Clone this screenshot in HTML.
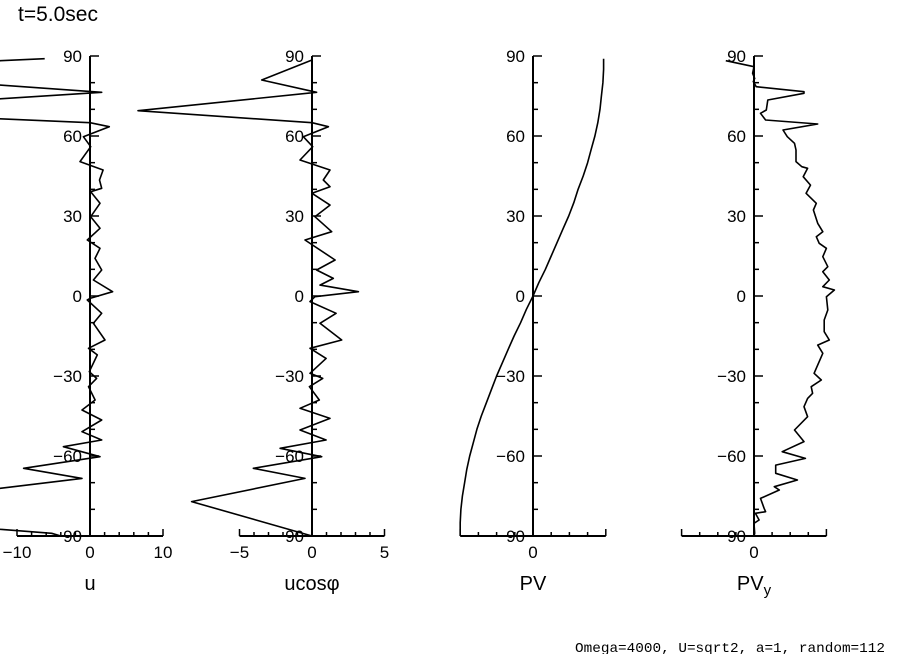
<!DOCTYPE html>
<html><head><meta charset="utf-8"><style>
body{margin:0;background:#fff;width:904px;height:654px;overflow:hidden}
svg{display:block}
text{font-family:"Liberation Sans",sans-serif;fill:#000}
</style></head><body>
<svg id="chart" width="904" height="654" viewBox="0 0 904 654" xmlns="http://www.w3.org/2000/svg">
<text x="18" y="21" font-size="21">t=5.0sec</text>
<text x="575" y="652" font-size="14" textLength="310" lengthAdjust="spacingAndGlyphs" style="font-family:'Liberation Mono',monospace">Omega=4000, U=sqrt2, a=1, random=112</text>
</svg>
<script>
// Latitudes/values
const uLat = [89,88.25,81,76.4,69.5,65,63.5,59.75,56,50.4,47.25,43.5,40.4,39.1,34.75,29.75,25.4,21,17.9,14.1,9.75,6,1.6,-0.9,-1.5,-6.5,-10.25,-16.5,-19.6,-22.1,-28.4,-30.9,-34,-39,-42.75,-46.5,-50.9,-54,-56.5,-60.25,-64.6,-68.4,-72.1,-77.1,-87.5,-89,-90];
const uVal = [-6.2,-12.3,-22,1.6,-38,0,2.65,-0.9,0.1,-1.37,1.8,1.3,1.6,0.1,1.37,0.1,1.37,-0.37,1.37,0.68,1.6,0.46,3.1,0,-0.37,1.6,0.46,2.05,-0.2,1.0,-0.1,0.9,-0.2,0.7,-1.1,1.6,-1.1,1.6,-3.65,1.37,-9.1,-1.1,-12.3,-33,-12.3,-5.25,-4];
const ucLat = [90,88.5,81,76.4,69.5,65,63.5,59.75,56,51,47.25,43.5,41,38.5,34.1,29.75,24.1,21,13.5,9.75,6.6,4.1,1.6,-0.25,-2.1,-6.5,-10.25,-16.5,-19.6,-23.4,-29,-30.9,-34,-39,-42.1,-45.9,-50.25,-54,-57.1,-60.25,-64.6,-68.4,-77.1,-90];
const ucVal = [0,0,-3.47,0.32,-12,0,1.13,-0.6,0.05,-0.83,1.24,0.78,1.24,0,1.24,0.2,1.36,-0.48,1.59,0.32,1.47,0.55,3.2,0.2,-0.14,1.66,0.55,2.05,-0.14,0.97,-0.14,0.74,-0.18,0.5,-0.83,1.24,-0.83,0.97,-2.2,0.67,-4.05,-0.48,-8.3,0];
const pvLat = [89,85,80,75,70,65,60,55,50,45,40,35,30,25,20,15,10,5,0,-5,-10,-15,-20,-25,-30,-35,-40,-45,-50,-55,-60,-65,-70,-75,-80,-85,-90];
const pvVal = [0.97,0.97,0.96,0.94,0.92,0.89,0.85,0.80,0.75,0.69,0.62,0.56,0.49,0.41,0.33,0.25,0.17,0.08,0,-0.09,-0.17,-0.26,-0.34,-0.42,-0.5,-0.57,-0.64,-0.71,-0.77,-0.82,-0.87,-0.91,-0.94,-0.97,-0.99,-1.0,-1.0];
const pvyLat = [88.25,86,83.5,81.6,80.4,78.5,76.6,76,73.5,69.75,68.5,66,64.5,62.25,59.75,57.25,54.75,50.4,48.5,47.9,44.75,41.6,38.5,34.75,32.25,27.25,24.1,22.25,19.75,17.9,14.75,11,9.1,6,3.5,2.25,-0.25,-5.25,-9,-13.4,-16.5,-18.4,-21.5,-29,-31.5,-34,-36.5,-38.4,-41.5,-45.25,-50.25,-54.6,-58.4,-60.9,-63.4,-66.5,-69,-71.5,-72.75,-75.9,-79.6,-80.9,-81.5,-84,-85.25,-89,-90];
const pvyVal = [-0.39,0,-0.02,0.01,-0.01,0.03,0.69,0.69,0.19,0.17,0.09,0.16,0.88,0.40,0.46,0.56,0.58,0.58,0.66,0.74,0.68,0.78,0.72,0.86,0.82,0.88,0.95,0.86,0.90,1.0,0.95,1.02,0.95,1.04,0.95,1.11,1.0,1.02,0.97,0.97,1.04,0.88,0.95,0.83,0.93,0.79,0.81,0.74,0.69,0.74,0.56,0.69,0.39,0.71,0.30,0.30,0.60,0.28,0.35,0.09,0.14,0.16,0.02,0.07,0,0.01,0];
const latTicks = [90,60,30,0,-30,-60,-90];

const NS='http://www.w3.org/2000/svg';
const svg=document.getElementById('chart');
const yTop=56,yBot=536;
function yScale(lat){return yTop+(90-lat)*(yBot-yTop)/180;}
function mk(tag,attrs,parent){const e=document.createElementNS(NS,tag);for(const k in attrs)e.setAttribute(k,attrs[k]);(parent||svg).appendChild(e);return e;}

const panels=[
 {name:'u',x0:90,scale:7.3,min:-10,max:10,minor:2,labels:[-10,0,10],lat:uLat,val:uVal,title:'u'},
 {name:'ucos',x0:312,scale:14.5,min:-5,max:5,minor:1,labels:[-5,0,5],lat:ucLat,val:ucVal,title:'ucosφ'},
 {name:'pv',x0:533,scale:72.8,min:-1,max:1,minor:0.25,labels:[0],lat:pvLat,val:pvVal,title:'PV'},
 {name:'pvy',x0:754,scale:72.4,min:-1,max:1,minor:0.25,labels:[0],lat:pvyLat,val:pvyVal,title:'PVy'}
];
panels.forEach(p=>{
  const g=mk('g',{});
  
  
  const xs=v=>p.x0+v*p.scale;
  const ya=mk('line',{x1:p.x0,y1:yTop,x2:p.x0,y2:yBot,stroke:'#000','stroke-width':2},g);
  
  
  for(let lat=-90;lat<=90;lat+=10){
    const major=lat%30===0;
    const t=mk('line',{x1:p.x0,y1:yScale(lat),x2:p.x0+(major?9:5),y2:yScale(lat),stroke:'#000','stroke-width':1.5},g);
    
    
  }
  latTicks.forEach(lat=>{
    const t=mk('text',{x:p.x0-8,y:yScale(lat)+6,'font-size':17,'text-anchor':'end'},g);
    t.textContent=lat<0?'\u2212'+(-lat):String(lat);
    
    
  });
  const xa=mk('line',{x1:xs(p.min),y1:yBot,x2:xs(p.max),y2:yBot,stroke:'#000','stroke-width':2},g);
  
  
  const n=Math.round((p.max-p.min)/p.minor);
  for(let i=0;i<=n;i++){
    const v=p.min+i*p.minor;
    const major=p.labels.some(l=>Math.abs(l-v)<1e-6)||i===0||i===n;
    const t=mk('line',{x1:xs(v),y1:yBot,x2:xs(v),y2:yBot-(major?7:4),stroke:'#000','stroke-width':1.5},g);
    
    
  }
  p.labels.forEach(v=>{
    const t=mk('text',{x:xs(v),y:558,'font-size':17,'text-anchor':'middle'},g);
    t.textContent=v<0?'\u2212'+(-v):String(v);
    
    
  });
  const tt=mk('text',{x:p.x0,y:590,'font-size':20,'text-anchor':'middle'},g);
  if(p.name==='pvy'){tt.textContent='PV';const s=mk('tspan',{'font-size':15,dy:5},tt);s.textContent='y';}
  else tt.textContent=p.title;
  
  
  const pts=p.lat.map((lat,i)=>xs(p.val[i]).toFixed(1)+','+yScale(lat).toFixed(1)).join(' ');
  const pl=mk('polyline',{points:pts,fill:'none',stroke:'#000','stroke-width':1.6,'stroke-linejoin':'round'},g);
  
  
});
</script>
</body></html>
